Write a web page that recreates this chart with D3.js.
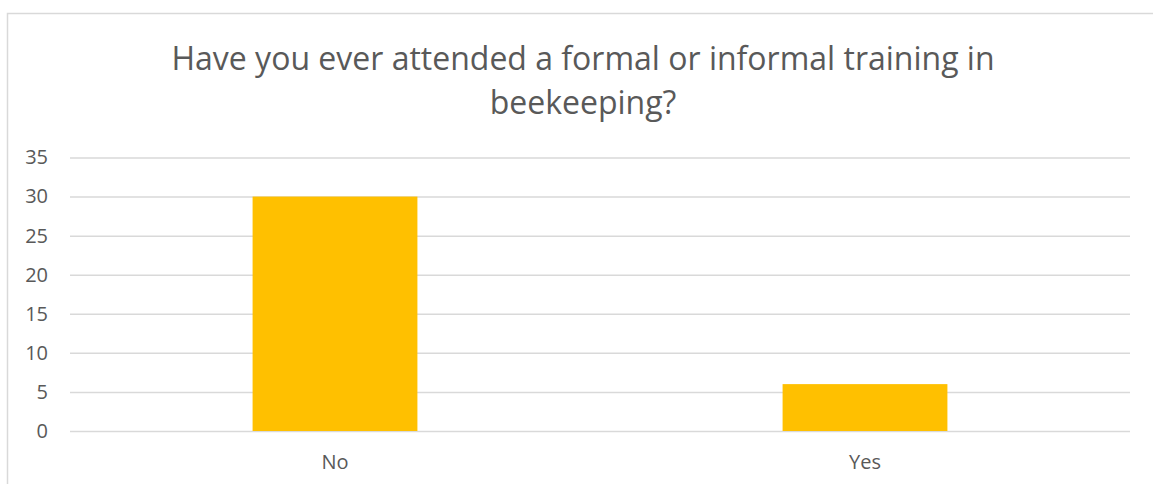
<!DOCTYPE html>
<html>
<head>
<meta charset="utf-8">
<script src="https://cdn.jsdelivr.net/npm/d3@7"></script>
<style>
  body { margin: 0; background: #fff; }
  svg { display: block; }
</style>
</head>
<body>
<svg width="1153" height="484"></svg>
<script>
const categories = ["No", "Yes"]
const counts = [30, 6]
const yTicks = [0, 5, 10, 15, 20, 25, 30, 35]
const titleLines = ["Have you ever attended a formal or informal training in", "beekeeping?"]

const svg = d3.select("svg"),
    margin = {top: 157.5, right: 23, bottom: 53, left: 70},
    width = +svg.attr("width") - margin.left - margin.right,
    height = +svg.attr("height") - margin.top - margin.bottom

const font = "'Open Sans', sans-serif"
const textColor = "#595959"

// chart area border (right and bottom edges fall outside the picture)
svg.append("rect")
    .attr("x", 7.5)
    .attr("y", 13.5)
    .attr("width", 1200)
    .attr("height", 600)
    .attr("fill", "none")
    .attr("stroke", "#d9d9d9")
    .attr("stroke-width", 1.5)

// title
svg.append("g").selectAll("text")
  .data(titleLines)
  .join("text")
    .attr("x", 583)
    .attr("y", (d, i) => 70 + i * 44)
    .attr("text-anchor", "middle")
    .attr("font-family", font)
    .attr("font-size", 32)
    .attr("fill", textColor)
    .text(d => d)

const g = svg.append("g")
    .attr("transform", "translate(" + margin.left + "," + margin.top + ")")

const x = d3.scaleBand()
    .domain(categories)
    .range([0, width])
    .paddingInner(0.689)
    .paddingOuter(0.689 / 2)

const y = d3.scaleLinear()
    .domain([0, 35])
    .range([height, 0])

// gridlines + y labels
const yAxis = g.append("g")
    .call(d3.axisLeft(y).tickValues(yTicks).tickSize(-width).tickPadding(22))
yAxis.select(".domain").remove()
yAxis.selectAll(".tick line")
    .attr("stroke", "#d9d9d9")
    .attr("stroke-width", 1.5)
yAxis.selectAll(".tick text")
    .attr("font-family", font)
    .attr("font-size", 20)
    .attr("fill", textColor)

// bars
g.selectAll(".bar")
  .data(counts)
  .join("rect")
    .attr("class", "bar")
    .attr("x", (d, i) => x(categories[i]))
    .attr("y", d => y(d))
    .attr("width", x.bandwidth())
    .attr("height", d => height - y(d))
    .attr("fill", "#ffc000")

// x labels
const xAxis = g.append("g")
    .attr("transform", "translate(0," + height + ")")
    .call(d3.axisBottom(x).tickSize(0).tickPadding(24))
xAxis.select(".domain").remove()
xAxis.selectAll(".tick text")
    .attr("font-family", font)
    .attr("font-size", 20)
    .attr("fill", textColor)
</script>
</body>
</html>
